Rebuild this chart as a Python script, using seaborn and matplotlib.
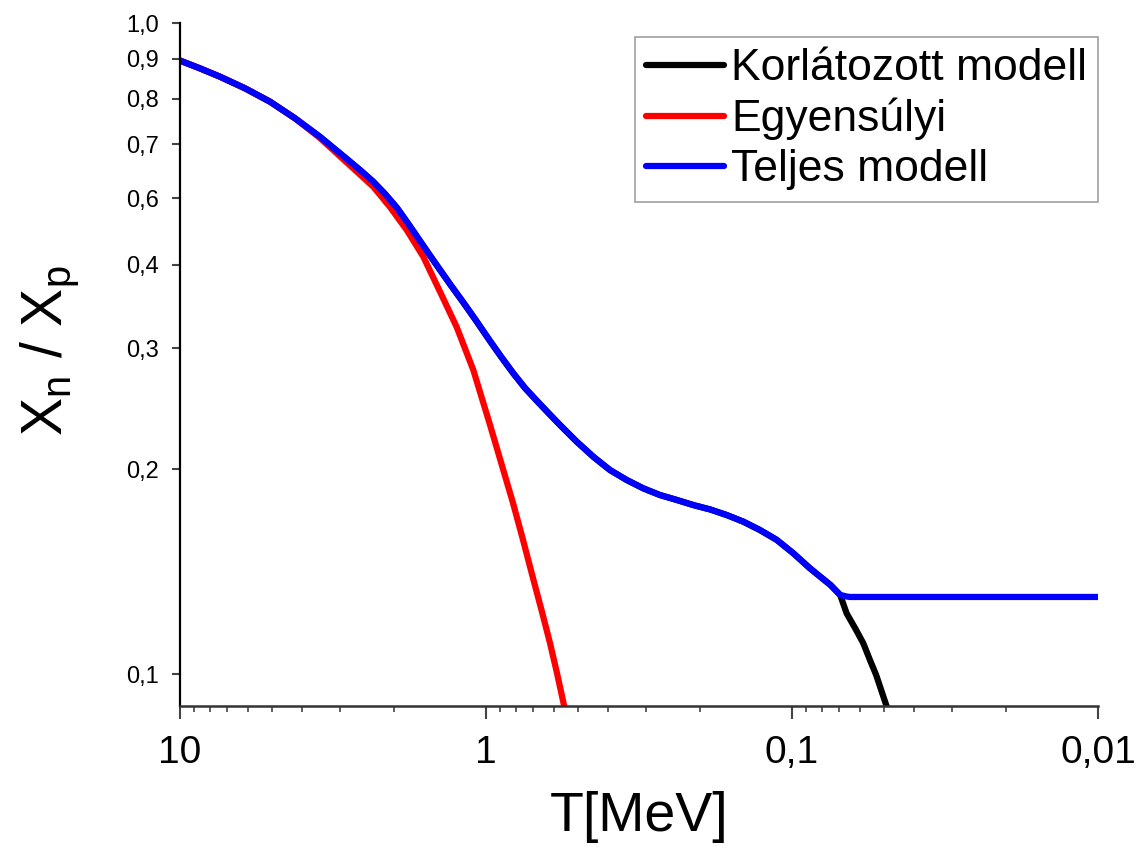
import numpy as np
import pandas as pd
import matplotlib
matplotlib.use("Agg")
import matplotlib.pyplot as plt
import seaborn as sns
from matplotlib.ticker import FixedLocator, FixedFormatter, LogLocator, NullFormatter

# ---- data ----
# Teljes modell (full model)
T_full = [10, 8.603, 7.40, 6.133, 5.08, 4.209, 3.49, 2.889, 2.581, 2.341, 2.138, 1.953,
          1.798, 1.643, 1.524, 1.413, 1.301, 1.189, 1.078, 0.970, 0.8934, 0.816, 0.7457,
          0.681, 0.6272, 0.5731, 0.5053, 0.4460, 0.3934, 0.3469, 0.3061, 0.2700, 0.2381,
          0.2102, 0.1853, 0.1634, 0.1442, 0.1272, 0.1122, 0.0990, 0.0873, 0.0749, 0.0696,
          0.0662, 0.0646, 0.01]
Y_full = [0.895, 0.8747, 0.8535, 0.8249, 0.7930, 0.7551, 0.7151, 0.6737, 0.6502, 0.6294,
          0.6075, 0.5657, 0.5149, 0.4628, 0.4237, 0.3932, 0.3726, 0.3520, 0.3302, 0.3076,
          0.2918, 0.2762, 0.2626, 0.2514, 0.2419, 0.2320, 0.2194, 0.2086, 0.1995, 0.1929,
          0.1875, 0.1833, 0.1803, 0.1772, 0.1746, 0.1713, 0.1675, 0.1628, 0.1575, 0.1505,
          0.1430, 0.1352, 0.1307, 0.1300, 0.1298, 0.1298]

# Korlátozott modell (restricted model)
T_lim = [10, 8.603, 7.40, 6.133, 5.08, 4.209, 3.49, 2.889, 2.581, 2.341, 2.138, 1.953,
         1.798, 1.643, 1.524, 1.413, 1.301, 1.189, 1.078, 0.970, 0.8934, 0.816, 0.7457,
         0.681, 0.6272, 0.5731, 0.5053, 0.4460, 0.3934, 0.3469, 0.3061, 0.2700, 0.2381,
         0.2102, 0.1853, 0.1634, 0.1442, 0.1272, 0.1122, 0.0990, 0.0873, 0.0749, 0.0696,
         0.0663, 0.0622, 0.0585, 0.0556, 0.0531, 0.0486]
Y_lim = [0.895, 0.8747, 0.8535, 0.8249, 0.7930, 0.7551, 0.7151, 0.6737, 0.6502, 0.6294,
         0.6075, 0.5657, 0.5149, 0.4628, 0.4237, 0.3932, 0.3726, 0.3520, 0.3302, 0.3076,
         0.2918, 0.2762, 0.2626, 0.2514, 0.2419, 0.2320, 0.2194, 0.2086, 0.1995, 0.1929,
         0.1875, 0.1833, 0.1803, 0.1772, 0.1746, 0.1713, 0.1675, 0.1628, 0.1575, 0.1505,
         0.1430, 0.1352, 0.1307, 0.1228, 0.1168, 0.1110, 0.1048, 0.0997, 0.0885]

# Egyensúlyi (equilibrium)
T_eq = [10, 8.603, 7.40, 6.133, 5.08, 4.209, 3.49, 2.889, 2.335, 2.060, 1.816, 1.603,
        1.392, 1.247, 1.100, 0.970, 0.816, 0.757, 0.7022, 0.6561, 0.6177, 0.5861, 0.5517]
Y_eq = [0.895, 0.8747, 0.8535, 0.8249, 0.7930, 0.7551, 0.7126, 0.6672, 0.6200, 0.5691,
        0.4949, 0.4207, 0.3594, 0.3229, 0.2789, 0.2320, 0.1784, 0.1575, 0.1384, 0.1234,
        0.1110, 0.1003, 0.0885]

labels = ["Korlátozott modell", "Egyensúlyi", "Teljes modell"]
colors = ["#000000", "#ff0000", "#0000ff"]

y_ticks = [0.1, 0.2, 0.3, 0.4, 0.6, 0.7, 0.8, 0.9, 1.0]
y_ticklabels = ["0,1", "0,2", "0,3", "0,4", "0,6", "0,7", "0,8", "0,9", "1,0"]
x_ticks = [10, 1, 0.1, 0.01]
x_ticklabels = ["10", "1", "0,1", "0,01"]

# ---- style ----
sns.set_style("ticks")
plt.rcParams["font.family"] = ["Liberation Sans", "DejaVu Sans"]
plt.rcParams["mathtext.fontset"] = "custom"
plt.rcParams["mathtext.rm"] = "Liberation Sans"
plt.rcParams["mathtext.it"] = "Liberation Sans"
plt.rcParams["text.color"] = "black"
plt.rcParams["axes.labelcolor"] = "black"
plt.rcParams["xtick.labelcolor"] = "black"
plt.rcParams["ytick.labelcolor"] = "black"

fig = plt.figure(figsize=(11.44, 8.58), dpi=100)
ax = fig.add_axes([180 / 1144, 1 - 706 / 858, 918 / 1144, (706 - 23.3) / 858])

# The reference's y axis is a (non-uniform) logarithmic axis; reproduce its tick spacing
_anchor_log = np.log10(np.array(y_ticks))
_anchor_u = np.array([32, 236.7, 357.7, 441, 507.7, 562, 607.3, 647.3, 682.7])
_ext_log = np.concatenate([[-7.0], _anchor_log, [3.0]])
_ext_u = np.concatenate([[32 - 6 * 680], _anchor_u, [682.7 + 3 * 790]])


def fwd(y):
    y = np.asarray(y, dtype=float)
    return np.interp(np.log10(np.clip(y, 1e-7, 1e3)), _ext_log, _ext_u)


def inv(u):
    u = np.asarray(u, dtype=float)
    return 10 ** np.interp(u, _ext_u, _ext_log)


series = [(T_lim, Y_lim), (T_eq, Y_eq), (T_full, Y_full)]
for (t, y), lab, c in zip(series, labels, colors):
    df = pd.DataFrame({"T": t, "ratio": y})
    sns.lineplot(data=df, x="T", y="ratio", color=c, lw=4.5, label=lab, ax=ax,
                 sort=False, estimator=None, solid_capstyle="round",
                 solid_joinstyle="round")

ax.set_xscale("log")
ax.set_yscale("function", functions=(fwd, inv))
ax.set_xlim(10, 0.01)
ax.set_ylim(float(inv(0.0)), 1.0)

ax.xaxis.set_major_locator(FixedLocator(x_ticks))
ax.xaxis.set_major_formatter(FixedFormatter(x_ticklabels))
ax.xaxis.set_minor_locator(LogLocator(base=10, subs=np.arange(2, 10), numticks=20))
ax.xaxis.set_minor_formatter(NullFormatter())
ax.yaxis.set_major_locator(FixedLocator(y_ticks))
ax.yaxis.set_major_formatter(FixedFormatter(y_ticklabels))
ax.yaxis.set_minor_locator(FixedLocator([]))

ax.tick_params(axis="x", which="major", direction="out", length=9, width=1.5,
               color="#444444", labelsize=28, pad=12)
ax.tick_params(axis="x", which="minor", direction="out", length=4.5, width=1.2,
               color="#444444")
ax.tick_params(axis="y", which="major", direction="out", length=6, width=1.5,
               color="#444444", labelsize=17, pad=9)

sns.despine(ax=ax)
ax.spines["left"].set_linewidth(1.6)
ax.spines["bottom"].set_linewidth(1.8)
ax.spines["left"].set_color("#000000")
ax.spines["bottom"].set_color("#333333")

ax.set_xlabel("T[MeV]", fontsize=40)
ax.xaxis.set_label_coords(0.5, -0.125)
ax.set_ylabel(r"$\mathregular{X_n\ /\ X_p}$", fontsize=41)
ax.yaxis.set_label_coords(-0.108, 0.52)

leg = ax.legend(loc="upper right", bbox_to_anchor=(1.0, (706 - 37) / (706 - 23.3)),
                borderaxespad=0, fontsize=32, frameon=True, fancybox=False,
                handlelength=1.75, handletextpad=0.15, labelspacing=0.2,
                borderpad=0.25)
leg.get_frame().set_edgecolor("#888888")
leg.get_frame().set_linewidth(1.2)
for line in leg.get_lines():
    line.set_linewidth(4.5)

fig.savefig("out.png", dpi=100)
